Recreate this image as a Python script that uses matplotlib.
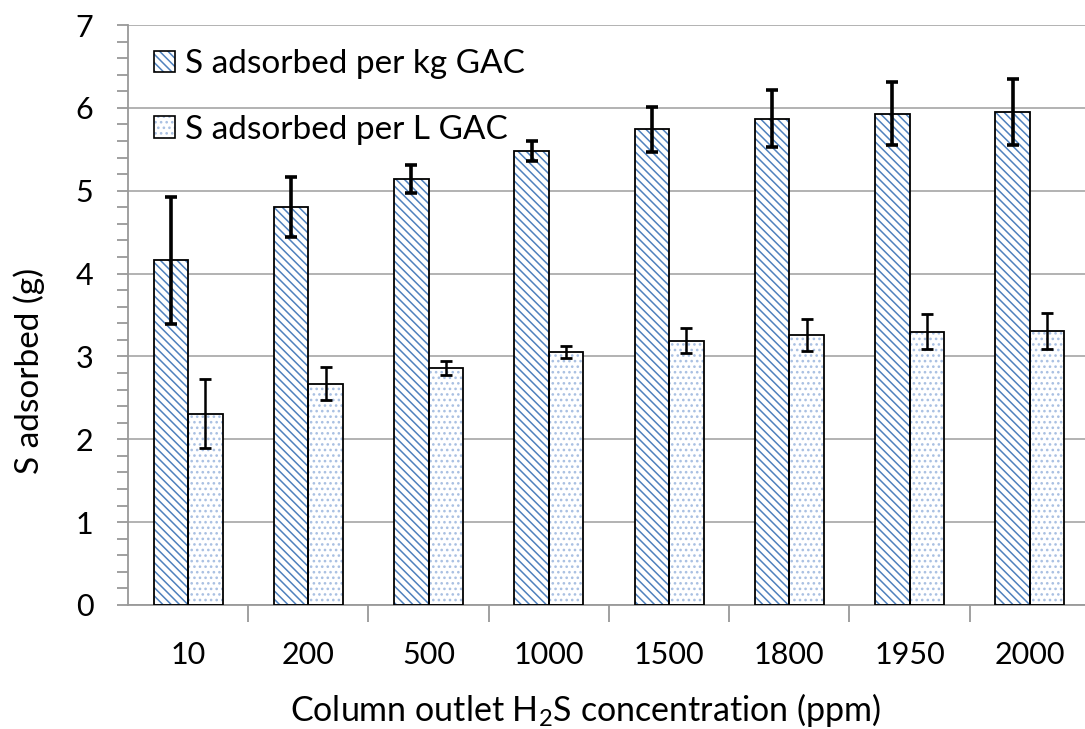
import matplotlib
matplotlib.use("Agg")
import matplotlib.pyplot as plt
import numpy as np
from matplotlib.patches import Patch
from matplotlib.legend_handler import HandlerTuple

categories = ["10", "200", "500", "1000", "1500", "1800", "1950", "2000"]
per_kg = [4.16, 4.80, 5.14, 5.48, 5.74, 5.87, 5.93, 5.95]
per_kg_err = [0.77, 0.36, 0.17, 0.12, 0.27, 0.34, 0.38, 0.40]
per_L = [2.31, 2.67, 2.86, 3.05, 3.19, 3.26, 3.30, 3.31]
per_L_err = [0.42, 0.20, 0.09, 0.07, 0.15, 0.19, 0.21, 0.22]

plt.rcParams['font.family'] = ['Lato', 'DejaVu Sans']
plt.rcParams['mathtext.default'] = 'regular'
plt.rcParams['hatch.linewidth'] = 1.1

fig = plt.figure(figsize=(10.85, 7.29), dpi=100)
ax = fig.add_axes([128/1085, 1-605/729, (1090-128)/1085, (605-25)/729])

x = np.arange(len(categories)) + 0.5
w = 0.287
blue = '#4f81bd'
dotc = '#a9c0e2'
kg_hatch = '\\\\\\\\'
L_hatch = '...'

ax.bar(x - w/2, per_kg, w, facecolor='white', edgecolor=blue, hatch=kg_hatch, linewidth=0, zorder=2)
ax.bar(x - w/2, per_kg, w, fill=False, edgecolor='black', linewidth=1.3, zorder=3)
ax.bar(x + w/2, per_L, w, facecolor='white', edgecolor=dotc, hatch=L_hatch, linewidth=0, zorder=2)
ax.bar(x + w/2, per_L, w, fill=False, edgecolor='black', linewidth=1.3, zorder=3)

ax.errorbar(x - w/2, per_kg, yerr=per_kg_err, fmt='none', ecolor='black', elinewidth=2.6, capsize=4.5, capthick=2.6, zorder=4)
ax.errorbar(x + w/2, per_L, yerr=per_L_err, fmt='none', ecolor='black', elinewidth=1.8, capsize=4.5, capthick=2.0, zorder=4)

ax.set_xlim(0, len(categories))
ax.set_ylim(0, 7)
ax.set_yticks(np.arange(0, 8, 1))
ax.set_yticks(np.arange(0, 7.01, 0.2), minor=True)
ax.set_xticks(x)
ax.set_xticklabels(categories)
ax.set_xticks(np.arange(1, len(categories)+1), minor=True)
ax.tick_params(axis='x', which='major', length=0, pad=26, labelsize=22)
ax.tick_params(axis='x', which='minor', length=12, width=1.3, color='#999999', direction='out')
ax.tick_params(axis='y', which='both', length=8, width=1.3, color='#999999', direction='out')
ax.tick_params(axis='y', which='major', labelsize=22, pad=17)

ax.grid(axis='y', which='major', color='#a6a6a6', linewidth=1.2, zorder=0)
ax.set_axisbelow(True)
for s in ['top', 'right']:
    ax.spines[s].set_visible(False)
for s in ['left', 'bottom']:
    ax.spines[s].set_color('#999999')
    ax.spines[s].set_linewidth(1.3)

ax.set_ylabel('S adsorbed (g)', fontsize=24)
ax.yaxis.set_label_coords(-0.103, 0.403)
ax.yaxis.label.set_verticalalignment('center')
ax.set_xlabel('Column outlet H$_2$S concentration (ppm)', fontsize=24.5, labelpad=16)
ax.xaxis.label.set_x(0.476)

h1 = (Patch(facecolor='white', edgecolor=blue, hatch=kg_hatch, linewidth=0),
      Patch(fill=False, edgecolor='black', linewidth=1.2))
h2 = (Patch(facecolor='white', edgecolor=dotc, hatch=L_hatch, linewidth=0),
      Patch(fill=False, edgecolor='black', linewidth=1.2))
ax.legend([h1, h2], ['S adsorbed per kg GAC', 'S adsorbed per L GAC'],
          handler_map={tuple: HandlerTuple(ndivide=1, pad=0)},
          loc='upper left', bbox_to_anchor=(-0.004, 1.01), frameon=False, fontsize=24,
          handlelength=0.62, handleheight=0.62, handletextpad=0.3, labelspacing=1.06)

fig.savefig('out.png', dpi=100)
